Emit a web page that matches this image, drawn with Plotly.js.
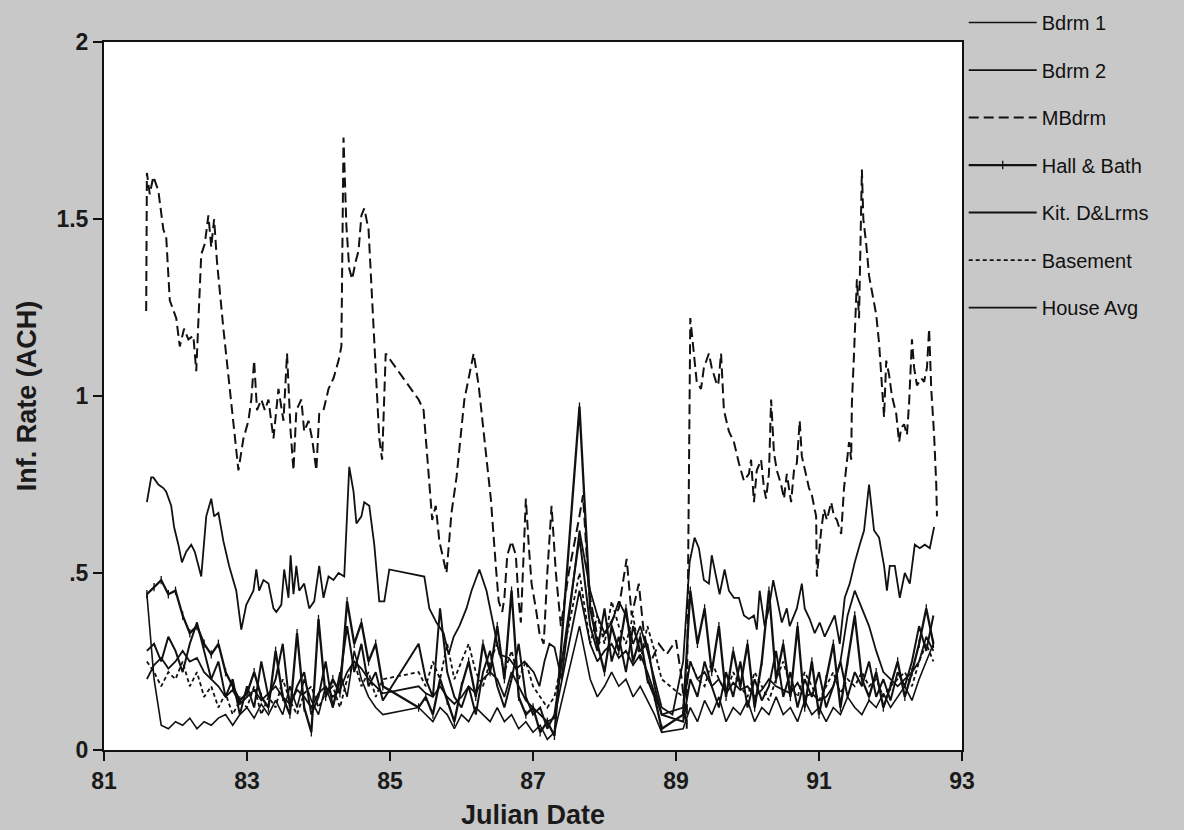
<!DOCTYPE html>
<html>
<head>
<meta charset="utf-8">
<script src="https://cdn.plot.ly/plotly-3.0.1.min.js"></script>
<style>html,body{margin:0;padding:0;background:#c8c8c8;}#chart{width:1184px;height:830px;}</style>
</head>
<body>
<div id="chart"></div>
<script>
// ---- Data ----
const seriesNames = ["Bdrm 1", "Bdrm 2", "MBdrm", "Hall & Bath", "Kit. D&Lrms", "Basement", "House Avg"];
const xTicks = [81, 83, 85, 87, 89, 91, 93];
const yTickVals = [0, 0.5, 1, 1.5, 2];
const yTickText = ["0", ".5", "1", "1.5", "2"];

// MBdrm (long dash, top curve)
const mbdrmX = [81.59,81.60,81.64,81.69,81.76,81.83,81.87,81.92,82.01,82.06,82.12,82.18,82.25,82.29,82.36,82.41,82.46,82.50,82.54,82.58,82.67,82.74,82.81,82.88,82.95,83.02,83.06,83.10,83.14,83.20,83.25,83.30,83.37,83.44,83.51,83.56,83.61,83.65,83.69,83.76,83.80,83.86,83.91,83.97,84.01,84.07,84.14,84.21,84.28,84.32,84.35,84.39,84.43,84.47,84.52,84.56,84.60,84.64,84.70,84.75,84.81,84.85,84.89,84.94,
85.40,85.47,85.54,85.59,85.64,85.69,85.79,85.86,85.93,85.99,86.04,86.10,86.17,86.24,86.34,86.41,86.48,86.52,86.57,86.60,86.64,86.70,86.76,86.80,86.83,86.87,86.90,86.94,86.98,87.04,87.09,87.15,87.20,87.26,87.32,87.39,
87.50,87.64,87.70,87.78,87.92,88.06,88.20,88.31,88.38,88.48,88.55,88.65,88.76,88.87,89.00,89.08,89.15,
89.20,89.25,89.29,89.35,89.39,89.46,89.50,89.56,89.59,89.63,89.67,89.74,89.81,89.88,89.95,90.02,90.05,90.09,90.13,90.19,90.23,90.26,90.30,90.33,90.37,90.41,90.47,90.51,90.55,90.61,90.65,90.69,90.73,90.76,90.82,90.86,90.90,90.96,90.97,91.03,91.07,91.11,91.17,91.21,91.25,91.31,91.35,91.39,91.42,91.45,91.46,91.49,91.52,91.53,91.56,91.60,91.62,91.66,91.70,91.74,91.80,91.84,91.88,91.91,91.94,91.98,92.02,92.08,92.12,92.15,92.19,92.23,92.26,92.30,92.33,92.37,92.43,92.47,92.51,92.54,92.57,92.61,92.64,92.65];
const mbdrmY = [1.24,1.63,1.57,1.62,1.58,1.47,1.45,1.27,1.22,1.14,1.19,1.16,1.17,1.07,1.40,1.43,1.51,1.42,1.50,1.38,1.19,1.05,0.93,0.79,0.88,0.93,0.99,1.10,0.96,0.99,0.96,0.99,0.88,1.02,0.93,1.12,0.90,0.79,0.96,0.99,0.90,0.93,0.88,0.79,0.95,0.96,1.02,1.05,1.10,1.14,1.73,1.48,1.36,1.33,1.38,1.41,1.51,1.53,1.47,1.27,1.05,0.88,0.82,1.12,
0.99,0.96,0.78,0.65,0.69,0.59,0.50,0.67,0.77,0.90,0.99,1.05,1.12,1.03,0.85,0.71,0.52,0.42,0.39,0.43,0.55,0.59,0.55,0.42,0.36,0.55,0.71,0.58,0.47,0.40,0.33,0.30,0.50,0.69,0.50,0.35,
0.50,0.65,0.72,0.45,0.30,0.35,0.40,0.54,0.38,0.47,0.33,0.25,0.30,0.27,0.31,0.20,0.06,
1.22,1.12,1.04,1.02,1.08,1.12,1.08,1.04,1.03,1.12,0.96,0.90,0.87,0.81,0.76,0.78,0.82,0.70,0.79,0.82,0.74,0.71,0.78,0.99,0.84,0.79,0.75,0.71,0.78,0.70,0.79,0.81,0.93,0.83,0.78,0.74,0.72,0.66,0.49,0.62,0.68,0.65,0.70,0.66,0.65,0.61,0.74,0.81,0.87,0.82,0.98,1.12,1.26,1.33,1.22,1.64,1.50,1.43,1.34,1.30,1.23,1.15,1.03,0.94,1.10,1.06,1.00,0.95,0.87,0.91,0.92,0.89,0.98,1.16,1.08,1.03,1.05,1.04,1.08,1.19,1.02,0.89,0.75,0.66];

// Bdrm 2 (upper solid curve)
const bdrm2X = [81.60,81.66,81.69,81.76,81.83,81.87,81.94,81.98,82.04,82.09,82.15,82.22,82.27,82.36,82.43,82.50,82.54,82.60,82.67,82.75,82.85,82.92,82.99,83.09,83.13,83.17,83.23,83.30,83.37,83.41,83.48,83.52,83.58,83.61,83.65,83.69,83.73,83.80,83.87,83.94,84.01,84.07,84.14,84.21,84.28,84.36,84.43,84.49,84.53,84.60,84.64,84.71,84.78,84.85,84.92,84.99,
85.48,85.55,85.65,85.75,85.82,85.89,85.97,86.07,86.14,86.21,86.25,86.35,86.45,86.53,86.66,86.77,86.88,87.01,87.09,87.16,87.23,87.30,87.40,87.65,87.80,87.90,88.00,88.10,88.20,88.30,88.40,88.50,88.60,88.70,88.80,88.95,89.10,
89.19,89.26,89.32,89.39,89.46,89.50,89.54,89.61,89.68,89.74,89.81,89.88,89.95,90.02,90.09,90.13,90.17,90.24,90.30,90.36,90.41,90.48,90.55,90.59,90.69,90.76,90.80,90.87,90.94,91.01,91.08,91.15,91.22,91.29,91.36,91.43,91.50,91.57,91.63,91.70,91.77,91.84,91.91,91.95,91.99,92.06,92.13,92.20,92.27,92.34,92.41,92.48,92.55,92.61];
const bdrm2Y = [0.70,0.77,0.77,0.75,0.74,0.73,0.69,0.63,0.58,0.53,0.56,0.58,0.56,0.49,0.66,0.71,0.66,0.67,0.59,0.52,0.45,0.34,0.41,0.45,0.51,0.45,0.48,0.47,0.40,0.39,0.41,0.51,0.43,0.55,0.44,0.52,0.45,0.47,0.40,0.42,0.52,0.43,0.49,0.48,0.50,0.49,0.80,0.73,0.64,0.66,0.70,0.69,0.58,0.42,0.42,0.51,
0.49,0.40,0.36,0.33,0.27,0.32,0.35,0.40,0.45,0.49,0.51,0.45,0.35,0.27,0.26,0.23,0.25,0.22,0.18,0.25,0.30,0.29,0.20,0.62,0.45,0.38,0.33,0.36,0.42,0.38,0.30,0.35,0.28,0.20,0.12,0.10,0.25,
0.53,0.60,0.57,0.48,0.47,0.55,0.51,0.44,0.51,0.45,0.43,0.43,0.38,0.37,0.38,0.34,0.45,0.35,0.40,0.48,0.43,0.36,0.40,0.35,0.40,0.47,0.40,0.37,0.33,0.36,0.32,0.35,0.38,0.30,0.43,0.47,0.53,0.58,0.62,0.75,0.62,0.60,0.52,0.45,0.52,0.52,0.43,0.50,0.47,0.58,0.57,0.58,0.57,0.63];

// Shared dates for the lower five series
const lowX = [81.6,81.7,81.8,81.9,82.0,82.1,82.2,82.3,82.4,82.5,82.6,82.7,82.8,82.9,83.0,83.1,83.2,83.3,83.4,83.5,83.6,83.7,83.8,83.9,84.0,84.1,84.2,84.3,84.4,84.5,84.6,84.7,84.8,84.9,
85.4,85.5,85.6,85.7,85.8,85.9,86.0,86.1,86.2,86.3,86.4,86.5,86.6,86.7,86.8,86.9,87.0,87.1,87.2,87.3,
87.65,
87.8,87.9,88.0,88.1,88.2,88.3,88.4,88.5,88.6,88.7,88.8,
89.1,89.2,89.3,89.4,89.5,89.6,89.7,89.8,89.9,90.0,90.1,90.2,90.3,90.4,90.5,90.6,90.7,90.8,90.9,91.0,91.1,91.2,91.3,91.4,91.5,91.6,91.7,91.8,91.9,92.0,92.1,92.2,92.3,92.4,92.5,92.6];

const bdrm1Y = [0.44,0.20,0.07,0.06,0.08,0.07,0.09,0.06,0.08,0.07,0.09,0.10,0.07,0.10,0.12,0.09,0.13,0.10,0.14,0.10,0.18,0.12,0.20,0.14,0.10,0.18,0.12,0.22,0.15,0.28,0.20,0.15,0.12,0.10,
0.12,0.10,0.08,0.12,0.10,0.06,0.10,0.08,0.12,0.10,0.08,0.12,0.08,0.10,0.06,0.08,0.05,0.07,0.03,0.05,
0.35,
0.20,0.15,0.18,0.22,0.18,0.20,0.15,0.18,0.14,0.10,0.05,
0.06,0.12,0.08,0.14,0.10,0.15,0.08,0.12,0.10,0.14,0.08,0.12,0.10,0.15,0.10,0.12,0.08,0.14,0.10,0.12,0.08,0.12,0.10,0.15,0.12,0.10,0.14,0.12,0.16,0.12,0.15,0.18,0.14,0.20,0.25,0.30];

const hallY = [0.44,0.46,0.48,0.44,0.45,0.38,0.33,0.35,0.30,0.27,0.30,0.22,0.18,0.14,0.16,0.22,0.15,0.12,0.28,0.15,0.10,0.33,0.12,0.05,0.37,0.15,0.20,0.16,0.42,0.30,0.36,0.25,0.30,0.18,
0.12,0.15,0.10,0.20,0.14,0.08,0.18,0.25,0.15,0.30,0.22,0.35,0.20,0.45,0.15,0.10,0.12,0.05,0.08,0.04,
0.97,
0.40,0.30,0.22,0.35,0.28,0.40,0.25,0.32,0.20,0.15,0.06,
0.10,0.45,0.30,0.40,0.22,0.35,0.15,0.28,0.18,0.30,0.12,0.25,0.45,0.20,0.30,0.15,0.35,0.12,0.25,0.10,0.20,0.30,0.12,0.25,0.38,0.20,0.15,0.22,0.12,0.18,0.25,0.15,0.22,0.30,0.40,0.30];

const kitY = [0.28,0.30,0.25,0.32,0.28,0.22,0.30,0.36,0.28,0.20,0.25,0.15,0.20,0.10,0.18,0.12,0.25,0.15,0.20,0.30,0.12,0.18,0.22,0.10,0.15,0.25,0.12,0.20,0.35,0.22,0.30,0.18,0.22,0.14,
0.30,0.20,0.15,0.40,0.22,0.15,0.12,0.18,0.10,0.22,0.28,0.18,0.12,0.20,0.30,0.15,0.10,0.12,0.06,0.10,
0.60,
0.35,0.28,0.40,0.25,0.32,0.22,0.35,0.28,0.30,0.18,0.10,
0.08,0.20,0.15,0.25,0.18,0.12,0.22,0.15,0.25,0.12,0.20,0.14,0.18,0.28,0.15,0.22,0.12,0.20,0.15,0.22,0.12,0.18,0.25,0.15,0.22,0.18,0.25,0.15,0.20,0.14,0.22,0.18,0.25,0.35,0.28,0.38];

const basementY = [0.25,0.22,0.18,0.22,0.20,0.25,0.18,0.22,0.15,0.18,0.12,0.16,0.10,0.14,0.12,0.18,0.10,0.15,0.12,0.20,0.14,0.10,0.16,0.18,0.12,0.16,0.18,0.12,0.20,0.25,0.18,0.22,0.15,0.20,
0.22,0.18,0.25,0.20,0.30,0.20,0.25,0.30,0.22,0.18,0.25,0.30,0.22,0.28,0.20,0.25,0.18,0.15,0.12,0.15,
0.50,
0.30,0.38,0.30,0.42,0.35,0.30,0.38,0.25,0.35,0.28,0.20,
0.15,0.25,0.20,0.18,0.25,0.20,0.16,0.22,0.18,0.15,0.22,0.18,0.14,0.20,0.25,0.18,0.15,0.22,0.18,0.14,0.18,0.22,0.16,0.20,0.18,0.22,0.18,0.20,0.15,0.18,0.20,0.22,0.18,0.25,0.30,0.25];

const houseY = [0.20,0.24,0.26,0.23,0.25,0.28,0.25,0.26,0.22,0.20,0.18,0.15,0.17,0.13,0.15,0.17,0.14,0.16,0.18,0.15,0.13,0.17,0.15,0.12,0.16,0.18,0.15,0.17,0.22,0.25,0.23,0.20,0.18,0.16,
0.18,0.16,0.15,0.18,0.15,0.13,0.15,0.18,0.16,0.20,0.22,0.20,0.15,0.22,0.18,0.14,0.12,0.10,0.08,0.09,
0.45,
0.30,0.25,0.28,0.30,0.26,0.28,0.24,0.27,0.22,0.16,0.10,
0.12,0.25,0.20,0.22,0.18,0.20,0.16,0.19,0.17,0.18,0.15,0.17,0.20,0.18,0.17,0.16,0.19,0.15,0.16,0.14,0.15,0.18,0.25,0.38,0.45,0.40,0.35,0.28,0.22,0.20,0.18,0.20,0.22,0.25,0.32,0.28];

// ---- Chart ----
const ink = "#111111";
function tr(name, x, y, extra) {
  return Object.assign({
    type: "scatter", mode: "lines", name: name, x: x, y: y,
    legendgroup: name,
    line: {color: ink, width: 1.7}
  }, extra || {});
}
const traces = [
  tr(seriesNames[0], lowX, bdrm1Y, {line: {color: ink, width: 1.6}}),
  tr(seriesNames[1], bdrm2X, bdrm2Y, {line: {color: ink, width: 1.8}}),
  tr(seriesNames[2], mbdrmX, mbdrmY, {line: {color: ink, width: 2.0, dash: "10px,5px"}}),
  tr(seriesNames[3], lowX, hallY, {mode: "lines+markers", line: {color: ink, width: 2.3},
     marker: {symbol: "line-ns", size: 6, color: ink, line: {color: ink, width: 1.3}}}),
  tr(seriesNames[4], lowX, kitY, {line: {color: ink, width: 2.0}}),
  tr(seriesNames[5], lowX, basementY, {line: {color: ink, width: 1.8, dash: "4px,3px"}}),
  tr(seriesNames[6], lowX, houseY, {line: {color: ink, width: 1.8}})
];

const layout = {
  width: 1184, height: 830,
  paper_bgcolor: "#c8c8c8",
  plot_bgcolor: "#ffffff",
  margin: {l: 104, r: 222, t: 42, b: 80, autoexpand: false},
  font: {family: "Liberation Sans, Arial, sans-serif", color: "#1a1a1a"},
  showlegend: true,
  legend: {
    x: 1.002, xanchor: "left", y: 1.055, yanchor: "top",
    bgcolor: "rgba(0,0,0,0)", borderwidth: 0,
    font: {size: 20, color: "#111"},
    itemwidth: 68, traceorder: "grouped", tracegroupgap: 18.5
  },
  xaxis: {
    range: [81, 93], tickvals: xTicks, ticktext: xTicks.map(String),
    showgrid: false, zeroline: false,
    showline: true, mirror: true, linecolor: "#111", linewidth: 2,
    ticks: "outside", ticklen: 9, tickwidth: 2, tickcolor: "#111",
    tickfont: {size: 23, weight: "bold", color: "#1a1a1a"},
    title: {text: "Julian Date", font: {size: 27, weight: "bold", color: "#1a1a1a"}, standoff: 13}
  },
  yaxis: {
    range: [0, 2], tickvals: yTickVals, ticktext: yTickText,
    showgrid: false, zeroline: false,
    showline: true, mirror: true, linecolor: "#111", linewidth: 2,
    ticks: "outside", ticklen: 9, tickwidth: 2, tickcolor: "#111",
    tickfont: {size: 23, weight: "bold", color: "#1a1a1a"},
    title: {text: "Inf. Rate (ACH)", font: {size: 27, weight: "bold", color: "#1a1a1a"}, standoff: 12}
  }
};

Plotly.newPlot("chart", traces, layout, {staticPlot: true, displayModeBar: false});
</script>
</body>
</html>
